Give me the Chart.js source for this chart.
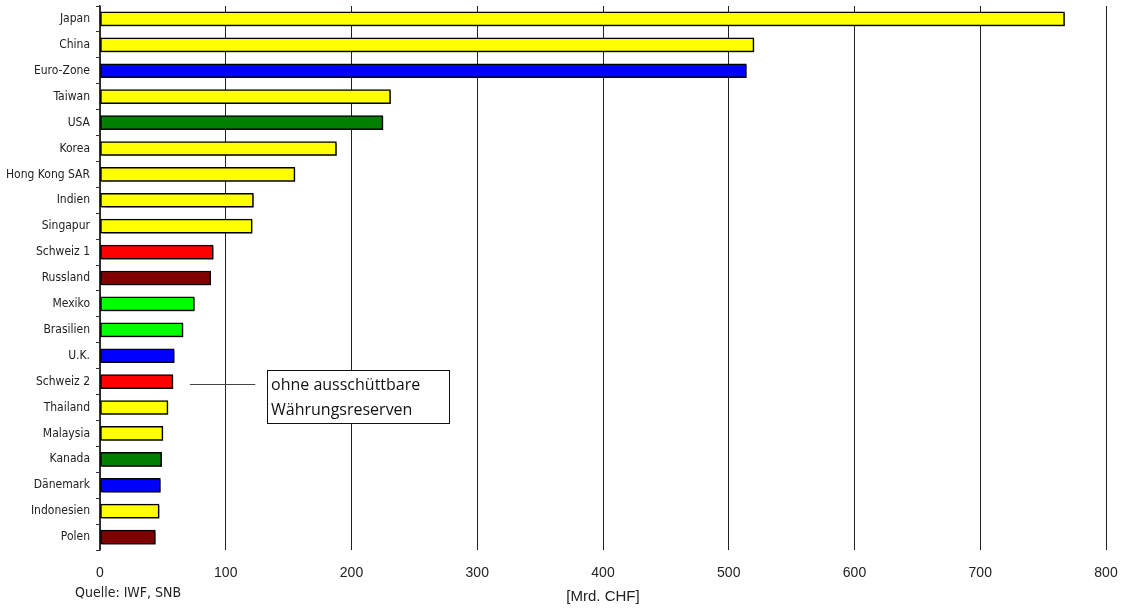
<!DOCTYPE html>
<html lang="de">
<head>
<meta charset="utf-8">
<title>Devisenreserven</title>
<script src="https://cdn.jsdelivr.net/npm/chart.js@4/dist/chart.umd.min.js"></script>
<style>
  html, body { margin: 0; padding: 0; background: #ffffff; }
  #wrap { width: 1129px; height: 611px; position: relative; }
</style>
</head>
<body>
<div id="wrap"><canvas id="chart"></canvas></div>
<script>
// Währungsreserven nach Land, in Mrd. CHF
const categories = ['Japan', 'China', 'Euro-Zone', 'Taiwan', 'USA', 'Korea', 'Hong Kong SAR',
  'Indien', 'Singapur', 'Schweiz 1', 'Russland', 'Mexiko', 'Brasilien', 'U.K.', 'Schweiz 2',
  'Thailand', 'Malaysia', 'Kanada', 'Dänemark', 'Indonesien', 'Polen'];
const reserves = [767, 520, 514, 231, 225, 188, 155, 122, 121, 90, 88, 75, 66, 59, 58,
  54, 50, 49, 48, 47, 44];
const barColors = ['#ffff00', '#ffff00', '#0000ff', '#ffff00', '#008000', '#ffff00', '#ffff00',
  '#ffff00', '#ffff00', '#ff0000', '#800000', '#00ff00', '#00ff00', '#0000ff', '#ff0000',
  '#ffff00', '#ffff00', '#008000', '#0000ff', '#ffff00', '#800000'];
const xTicks = [0, 100, 200, 300, 400, 500, 600, 700, 800];
const sourceText = 'Quelle: IWF, SNB';
const unitText = '[Mrd. CHF]';
const noteLines = ['ohne ausschüttbare', 'Währungsreserven'];
const noteTarget = 'Schweiz 2';

const condensedFont = '"DejaVu Sans Condensed", "Liberation Sans Narrow", sans-serif';

// leichter Schatten hinter den Balken
const barShadow = {
  id: 'barShadow',
  beforeDatasetsDraw(chart) {
    const ctx = chart.ctx;
    ctx.save();
    ctx.shadowColor = 'rgba(0,0,0,0.45)';
    ctx.shadowOffsetX = 1.5;
    ctx.shadowOffsetY = 1.5;
    ctx.shadowBlur = 1;
  },
  afterDatasetsDraw(chart) {
    chart.ctx.restore();
  }
};

// Quellenangabe, Einheit und Hinweisbox
const extraText = {
  id: 'extraText',
  afterDraw(chart) {
    const ctx = chart.ctx;
    const xs = chart.scales.x;
    const ys = chart.scales.y;
    const area = chart.chartArea;
    ctx.save();

    ctx.fillStyle = '#222';
    ctx.textBaseline = 'middle';
    ctx.textAlign = 'left';
    ctx.font = '14px ' + condensedFont;
    ctx.fillText(sourceText, 75, 593);

    ctx.textAlign = 'center';
    ctx.font = '15px "Liberation Sans", Arial, sans-serif';
    ctx.fillText(unitText, (area.left + area.right) / 2, 597);

    // Verbindungslinie zur Zeile „Schweiz 2"
    const rowY = Math.round(ys.getPixelForValue(categories.indexOf(noteTarget))) + 2.5;
    ctx.strokeStyle = '#444';
    ctx.lineWidth = 1;
    ctx.beginPath();
    ctx.moveTo(xs.getPixelForValue(71.5), rowY);
    ctx.lineTo(xs.getPixelForValue(123.5), rowY);
    ctx.stroke();

    // Box
    const bx = 267.5, by = 370.5, bw = 182, bh = 53;
    ctx.fillStyle = '#ffffff';
    ctx.fillRect(bx, by, bw, bh);
    ctx.strokeStyle = '#111';
    ctx.strokeRect(bx, by, bw, bh);
    ctx.fillStyle = '#111';
    ctx.textAlign = 'left';
    ctx.font = '16px "Open Sans", sans-serif';
    ctx.fillText(noteLines[0], bx + 3.5, by + 14.5);
    ctx.fillText(noteLines[1], bx + 3.5, by + 39.5);
    ctx.restore();
  }
};

function clearPadding(scale) {
  scale.paddingTop = 0;
  scale.paddingBottom = 0;
  scale.paddingLeft = 0;
  scale.paddingRight = 0;
}

new Chart(document.getElementById('chart'), {
  type: 'bar',
  data: {
    labels: categories,
    datasets: [{
      data: reserves,
      backgroundColor: barColors,
      borderColor: '#000',
      borderWidth: 1.5,
      borderSkipped: false,
      barThickness: 14
    }]
  },
  options: {
    indexAxis: 'y',
    responsive: true,
    maintainAspectRatio: false,
    animation: false,
    devicePixelRatio: 1,
    layout: { padding: { top: 6, right: 23, bottom: 0, left: 0 } },
    plugins: {
      legend: { display: false },
      tooltip: { enabled: false },
      title: { display: false }
    },
    scales: {
      x: {
        type: 'linear',
        min: 0,
        max: 800,
        afterBuildTicks(scale) { scale.ticks = xTicks.map(v => ({ value: v })); },
        afterFit(scale) { scale.height = 61; clearPadding(scale); },
        border: { display: false },
        grid: { color: '#222', lineWidth: 1, drawTicks: false },
        ticks: {
          padding: 15,
          color: '#222',
          font: { family: '"Liberation Sans", Arial, sans-serif', size: 14 }
        }
      },
      y: {
        afterFit(scale) { scale.width = 100; clearPadding(scale); },
        border: { display: true, color: '#333', width: 1.5 },
        grid: { offset: true, drawOnChartArea: false, tickLength: 4, color: '#333', lineWidth: 1 },
        ticks: {
          padding: 6,
          color: '#222',
          font: { family: condensedFont, size: 12 }
        }
      }
    }
  },
  plugins: [barShadow, extraText]
});
</script>
</body>
</html>
